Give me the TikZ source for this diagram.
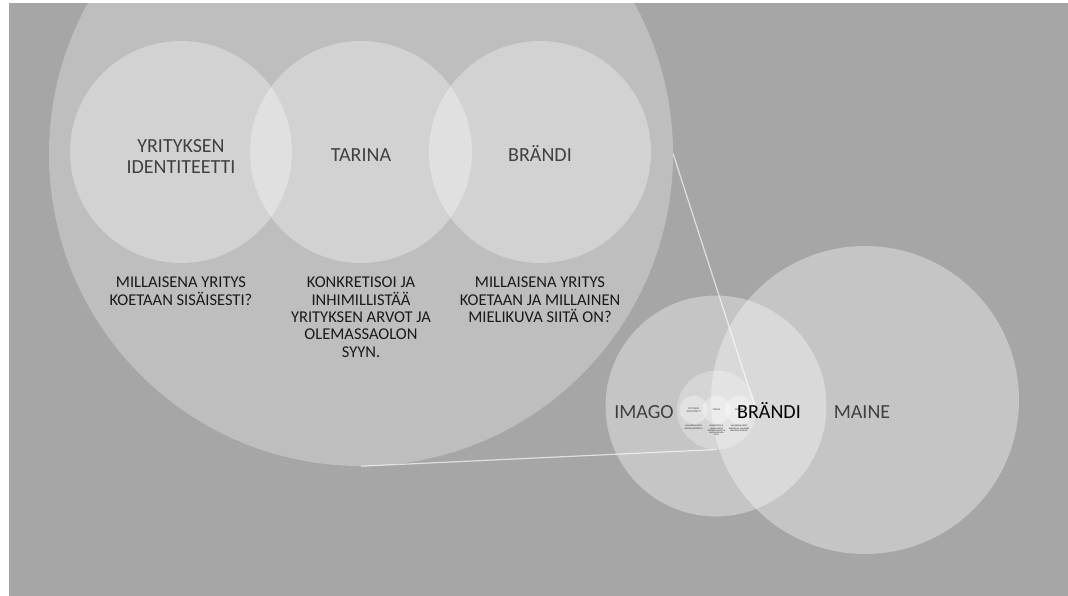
\documentclass[tikz,border=0pt]{standalone}
\usepackage{fontspec}
\setmainfont{Carlito}
\definecolor{canvas}{HTML}{A6A6A6}
\definecolor{softink}{HTML}{404040}
\definecolor{darkink}{HTML}{1A1A1A}
\tikzset{
  disc/.style={circle, draw=none, inner sep=0pt, fill=white, fill opacity=#1},
  circletext/.style={inner sep=0pt, align=center, text=softink,
    font=\fontsize{20}{21}\selectfont},
  notetext/.style={inner sep=0pt, align=center, text=darkink, anchor=north,
    font=\fontsize{16.5}{17.3}\selectfont},
  connector/.style={draw=white, draw opacity=0.65, line width=1.2pt},
  % the three-circle brand map, drawn large and again as a small copy
  brandmap/.pic={
    \node[disc=0.28, minimum size=624pt] (-outer) at (0,0) {};
    \node[disc=0.32, minimum size=222pt] (-c1) at (-180,2) {};
    \node[disc=0.32, minimum size=222pt] (-c2) at (0,2) {};
    \node[disc=0.32, minimum size=222pt] (-c3) at (179,2) {};
    \node[circletext, anchor=north] (-t1) at (-180,15) {YRITYKSEN\\IDENTITEETTI};
    \node[circletext, anchor=base] (-t2) at (0,-7.5) {TARINA};
    \node[circletext, anchor=base] (-t3) at (179,-7.5) {BRÄNDI};
    \node[notetext] (-n1) at (-180,-123) {MILLAISENA YRITYS\\KOETAAN SISÄISESTI?};
    \node[notetext] (-n2) at (0,-123) {KONKRETISOI JA\\INHIMILLISTÄÄ\\YRITYKSEN ARVOT JA\\OLEMASSAOLON\\SYYN.};
    \node[notetext] (-n3) at (179,-123) {MILLAISENA YRITYS\\KOETAAN JA MILLAINEN\\MIELIKUVA SIITÄ ON?};
  }
}
\begin{document}
\begin{tikzpicture}[x=1pt, y=1pt]
  \useasboundingbox (0,0) rectangle (1068,-596);
  \fill[white] (0,0) rectangle (1068,-596);
  \fill[canvas] (9,-3) rectangle (1068,-596);

  % enlarged view
  \pic (big) at (361,-154) {brandmap};

  % image and reputation
  \node[disc=0.35, minimum size=221pt] (imago) at (716,-406) {};
  \node[disc=0.35, minimum size=308pt] (maine) at (865,-400) {};

  % small copy inside the overlap
  \pic[scale=0.1266, transform shape] (mini) at (716.5,-410) {brandmap};

  % zoom lines from the enlarged view to its small copy
  \draw[connector] (big-outer.east) -- (mini-outer.east);
  \draw[connector] (big-outer.south) -- (mini-outer.south);

  \node[circletext, anchor=base] (imagotext) at (644,-418.5) {IMAGO};
  \node[circletext, anchor=base, text=black] (branditext) at (769,-418.5) {BRÄNDI};
  \node[circletext, anchor=base] (mainetext) at (862,-418) {MAINE};
\end{tikzpicture}
\end{document}
